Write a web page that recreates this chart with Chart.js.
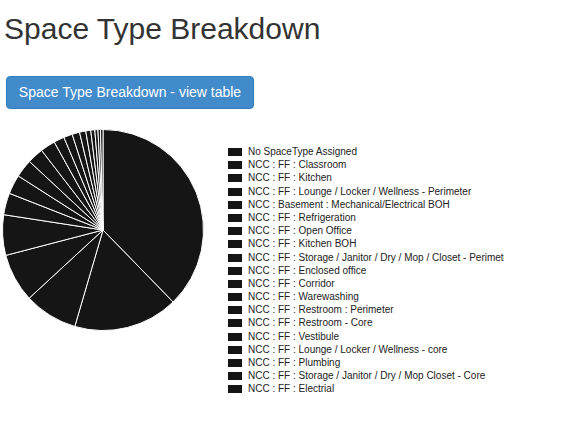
<!DOCTYPE html>
<html>
<head>
<meta charset="utf-8">
<script src="https://cdn.jsdelivr.net/npm/chart.js@4.4.0/dist/chart.umd.min.js"></script>
<style>
  body { margin: 0; background: #fff; font-family: "Liberation Sans", Arial, sans-serif; color: #333; }
  h2 { position: absolute; left: 4px; top: 9px; margin: 0; font-size: 30px; font-weight: 400; line-height: 40px; }
  .btn { position: absolute; left: 6px; top: 76px; width: 248px; height: 33px; box-sizing: border-box;
    background: #428bca; border: 1px solid #357ebd; border-radius: 4px; color: #fff; font-size: 14px;
    line-height: 31px; padding: 0; font-family: inherit; text-align: center; white-space: nowrap; }
  #pieWrap { position: absolute; left: 2px; top: 129px; width: 202px; height: 202px; }
  #legend { position: absolute; left: 228px; top: 145px; width: 276px; overflow: hidden; margin: 0; padding: 0; list-style: none; }
  #legend li { height: 13.2px; line-height: 13.2px; font-size: 10px; white-space: nowrap; color: #222; }
  #legend span { display: inline-block; width: 14px; height: 8px; margin-right: 6px; vertical-align: -1px; }
</style>
</head>
<body>
<h2>Space Type Breakdown</h2>
<button class="btn">Space Type Breakdown - view table</button>
<div id="pieWrap"><canvas id="pie" width="202" height="202"></canvas></div>
<ul id="legend"></ul>
<script>
// Space types, largest first
const LABELS = [
  'No SpaceType Assigned',
  'NCC : FF : Classroom',
  'NCC : FF : Kitchen',
  'NCC : FF : Lounge / Locker / Wellness - Perimeter',
  'NCC : Basement : Mechanical/Electrical BOH',
  'NCC : FF : Refrigeration',
  'NCC : FF : Open Office',
  'NCC : FF : Kitchen BOH',
  'NCC : FF : Storage / Janitor / Dry / Mop / Closet - Perimeter',
  'NCC : FF : Enclosed office',
  'NCC : FF : Corridor',
  'NCC : FF : Warewashing',
  'NCC : FF : Restroom : Perimeter',
  'NCC : FF : Restroom - Core',
  'NCC : FF : Vestibule',
  'NCC : FF : Lounge / Locker / Wellness - core',
  'NCC : FF : Plumbing',
  'NCC : FF : Storage / Janitor / Dry / Mop Closet - Core',
  'NCC : FF : Electrial'
];

// Share of floor area (%)
const AREAS = [37.7, 16.8, 8.6, 7.8, 6.5, 3.5, 3.1, 2.9, 2.6, 2.4, 1.7, 1.4, 1.2, 1.0, 0.8, 0.65, 0.5, 0.4, 0.4];

const SLICE_COLOR = '#151515';

const chart = new Chart(document.getElementById('pie').getContext('2d'), {
  type: 'pie',
  data: {
    labels: LABELS,
    datasets: [{
      data: AREAS,
      backgroundColor: SLICE_COLOR,
      borderColor: '#fff',
      borderWidth: 1
    }]
  },
  options: {
    responsive: false,
    animation: false,
    layout: { padding: 0 },
    plugins: {
      legend: { display: false },
      tooltip: { enabled: false }
    }
  }
});

// html legend (fixed width box clips the long label, like the original)
const items = Chart.overrides.pie.plugins.legend.labels.generateLabels(chart);
document.getElementById('legend').innerHTML = items.map(it =>
  `<li><span style="background:${it.fillStyle}"></span>${it.text}</li>`
).join('');
</script>
</body>
</html>
